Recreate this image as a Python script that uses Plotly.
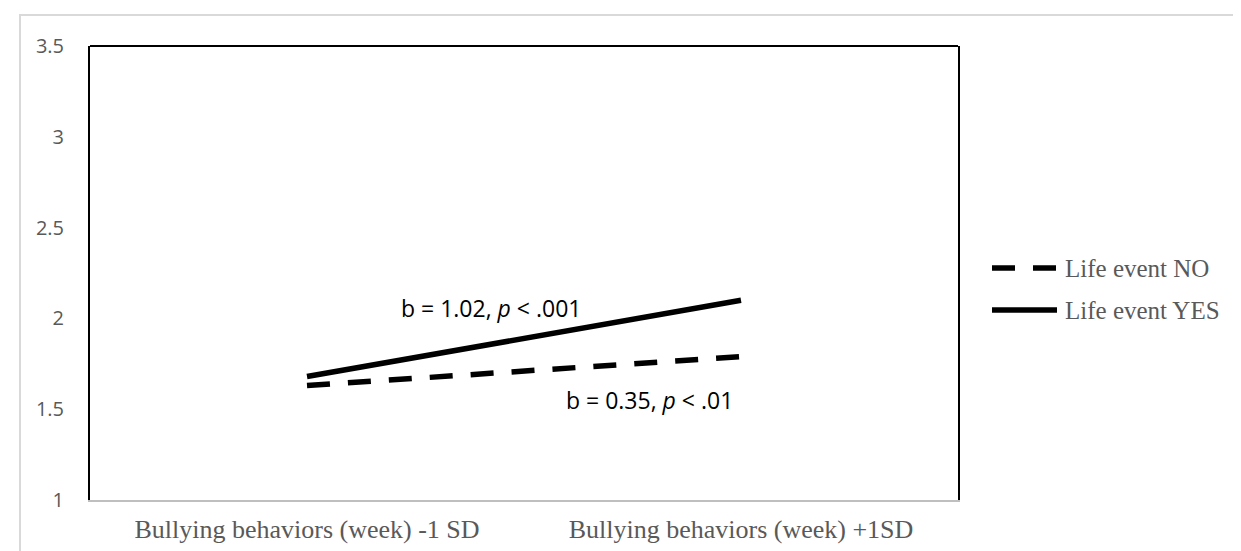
import plotly.graph_objects as go

categories = ["Bullying behaviors (week) -1 SD", "Bullying behaviors (week) +1SD"]
series_names = ["Life event NO", "Life event YES"]
life_event_no = [1.63, 1.79]
life_event_yes = [1.68, 2.10]
y_ticks = [1, 1.5, 2, 2.5, 3, 3.5]
y_tick_labels = ["1", "1.5", "2", "2.5", "3", "3.5"]
ann_texts = ["b = 1.02, <i>p</i> &lt; .001", "b = 0.35, <i>p</i> &lt; .01"]

W, H = 1241, 551
L, R, T, B = 82, 291, 38, 59
pw = W - L - R
ph = H - T - B


def px_x(px):
    return (px - L) / pw


def px_y(py):
    return (H - B - py) / ph


dashes = ["23px,18px", "solid"]

fig = go.Figure()
for name, vals, dash in zip(series_names, [life_event_no, life_event_yes], dashes):
    fig.add_trace(go.Scatter(x=[0, 1], y=vals, mode="lines", name=name, showlegend=False,
                             line=dict(color="black", width=5.5, dash=dash)))

# annotations
fig.add_annotation(x=0.424, y=2.057, text=ann_texts[0], showarrow=False,
                   font=dict(family="Open Sans", size=23, color="black"))
fig.add_annotation(x=0.79, y=1.551, text=ann_texts[1], showarrow=False,
                   font=dict(family="Open Sans", size=23, color="black"))

# manual legend
for i, (name, dash) in enumerate(zip(series_names, dashes)):
    ly = 260 + 42 * i
    fig.add_shape(type="line", xref="paper", yref="paper",
                  x0=px_x(984), x1=px_x(1049), y0=px_y(ly), y1=px_y(ly),
                  line=dict(color="black", width=5.5, dash=dash))
    fig.add_annotation(xref="paper", yref="paper", x=px_x(1055), y=px_y(ly),
                       xanchor="left", yanchor="middle", showarrow=False, text=name,
                       font=dict(family="Liberation Serif", size=25, color="#595959"))

# outer light border
fig.add_shape(type="rect", xref="paper", yref="paper",
              x0=px_x(12), x1=px_x(W + 5), y0=px_y(H + 5), y1=px_y(7),
              line=dict(color="#d9d9d9", width=2), layer="below")
# plot area border (top)
fig.add_shape(type="line", xref="paper", yref="paper", x0=0, x1=1, y0=1, y1=1,
              line=dict(color="black", width=2))

fig.update_layout(
    width=W, height=H,
    margin=dict(l=L, r=R, t=T, b=B),
    paper_bgcolor="white", plot_bgcolor="white",
    showlegend=False,
    xaxis=dict(range=[-0.5, 1.5], tickmode="array", tickvals=[0, 1], ticktext=categories,
               showgrid=False, zeroline=False, showline=True, linecolor="#bfbfbf", linewidth=2,
               ticks="", ticklabelstandoff=5,
               tickfont=dict(family="Liberation Serif", size=26, color="#595959")),
    yaxis=dict(range=[1, 3.5], tickmode="array", tickvals=y_ticks, ticktext=y_tick_labels,
               showgrid=False, zeroline=False, showline=True, linecolor="black", linewidth=2,
               mirror=True, ticks="", ticklabelstandoff=20,
               tickfont=dict(family="Open Sans", size=20, color="#595959")),
)

fig.write_html("out.html")
